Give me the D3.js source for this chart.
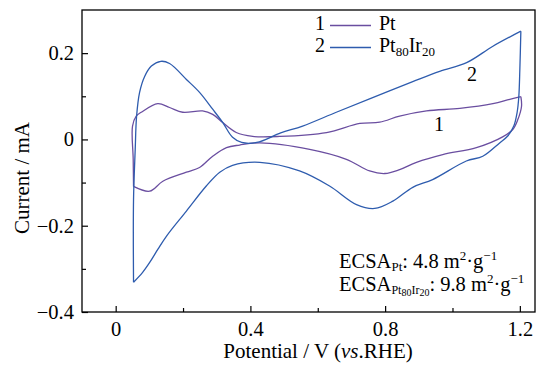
<!DOCTYPE html>
<html>
<head>
<meta charset="utf-8">
<script src="https://cdn.jsdelivr.net/npm/d3@7"></script>
</head>
<body style="margin: 0; background: #fff;">
<svg id="cv_chart" width="541" height="365"></svg>
<script>
// potential (V vs. RHE) and current (mA)
// forward (anodic) and reverse (cathodic) scans for each sample
const pt_fwd_potential = [0.053, 0.052, 0.050, 0.061, 0.076, 0.125, 0.160, 0.199, 0.258, 0.288, 0.318, 0.358, 0.407, 0.487, 0.626, 0.725, 0.784, 0.843, 0.923, 1.022, 1.120, 1.170, 1.203];
const pt_fwd_current = [-0.109, -0.046, 0.031, 0.054, 0.063, 0.083, 0.074, 0.063, 0.066, 0.058, 0.039, 0.016, 0.007, 0.007, 0.016, 0.037, 0.040, 0.054, 0.066, 0.072, 0.083, 0.093, 0.099];
const pt_rev_potential = [1.203, 1.205, 1.194, 1.179, 1.149, 1.071, 0.971, 0.893, 0.843, 0.799, 0.754, 0.685, 0.576, 0.428, 0.368, 0.329, 0.288, 0.249, 0.210, 0.140, 0.101, 0.053];
const pt_rev_current = [0.099, 0.077, 0.046, 0.023, 0.006, -0.019, -0.035, -0.053, -0.070, -0.079, -0.073, -0.046, -0.023, -0.008, -0.013, -0.019, -0.039, -0.065, -0.076, -0.097, -0.120, -0.109];

const ptir_fwd_potential = [0.053, 0.053, 0.058, 0.062, 0.071, 0.086, 0.106, 0.134, 0.160, 0.210, 0.249, 0.288, 0.318, 0.347, 0.374, 0.419, 0.490, 0.555, 0.655, 0.763, 0.882, 0.962, 1.042, 1.120, 1.203];
const ptir_fwd_current = [-0.331, -0.139, -0.023, 0.053, 0.109, 0.146, 0.170, 0.181, 0.176, 0.139, 0.109, 0.070, 0.039, 0.005, -0.007, -0.007, 0.015, 0.031, 0.063, 0.097, 0.134, 0.158, 0.178, 0.216, 0.251];
const ptir_rev_potential = [1.203, 1.200, 1.197, 1.192, 1.182, 1.164, 1.140, 1.090, 1.041, 0.941, 0.882, 0.823, 0.769, 0.715, 0.635, 0.546, 0.428, 0.347, 0.309, 0.269, 0.210, 0.151, 0.125, 0.101, 0.080, 0.053];
const ptir_rev_current = [0.251, 0.162, 0.100, 0.063, 0.031, 0.008, -0.008, -0.039, -0.050, -0.093, -0.111, -0.143, -0.160, -0.151, -0.108, -0.073, -0.053, -0.060, -0.076, -0.108, -0.166, -0.224, -0.255, -0.285, -0.308, -0.331];

const x_ticks = [0, 0.4, 0.8, 1.2];
const x_minor = [0.2, 0.6, 1.0];
const y_ticks = [-0.4, -0.2, 0, 0.2];
const y_minor = [-0.3, -0.1, 0.1];

const pt_color = '#6a4ea0';
const ptir_color = '#2e5cae';

const svg = d3.select("svg#cv_chart");
const box = { left: 82, right: 535, top: 10, bottom: 312 };
const serif = '"Liberation Serif", "Times New Roman", serif';

const x = d3.scaleLinear([-0.1, 1.245], [box.left, box.right]);
const y = d3.scaleLinear([-0.4, 0.3], [box.bottom, box.top]);

const fmt = d => d === 0 ? "0" : d3.format(".1f")(d);

// axes, ticks pointing inward
svg.append("g").attr("transform", `translate(0, ${box.bottom})`)
  .call(d3.axisBottom(x).tickValues(x_ticks).tickSize(-6).tickPadding(9).tickFormat(fmt));
svg.append("g").attr("transform", `translate(0, ${box.bottom})`)
  .call(d3.axisBottom(x).tickValues(x_minor).tickSize(-4).tickFormat(""));
svg.append("g").attr("transform", `translate(${box.left}, 0)`)
  .call(d3.axisLeft(y).tickValues(y_ticks).tickSize(-6).tickPadding(8).tickFormat(fmt));
svg.append("g").attr("transform", `translate(${box.left}, 0)`)
  .call(d3.axisLeft(y).tickValues(y_minor).tickSize(-4).tickFormat(""));

svg.selectAll(".domain").remove();
svg.selectAll(".tick line").attr("stroke", "#000").attr("stroke-width", 1.2);
svg.selectAll(".tick text").attr("font-size", 20.5).attr("fill", "#000");

svg.append("rect")
  .attr("x", box.left).attr("y", box.top)
  .attr("width", box.right - box.left).attr("height", box.bottom - box.top)
  .attr("fill", "none").attr("stroke", "#000").attr("stroke-width", 1.3);

// curves, one path per scan direction so the switching corners stay sharp
const line = d3.line()
  .x(d => x(d[0]))
  .y(d => y(d[1]))
  .curve(d3.curveCatmullRom.alpha(0.5));

const scans = [
  { pts: d3.zip(pt_fwd_potential, pt_fwd_current), color: pt_color },
  { pts: d3.zip(pt_rev_potential, pt_rev_current), color: pt_color },
  { pts: d3.zip(ptir_fwd_potential, ptir_fwd_current), color: ptir_color },
  { pts: d3.zip(ptir_rev_potential, ptir_rev_current), color: ptir_color }
];

svg.selectAll("path.cv")
  .data(scans)
  .join("path")
  .attr("class", "cv")
  .attr("d", d => line(d.pts))
  .attr("fill", "none")
  .attr("stroke", d => d.color)
  .attr("stroke-width", 1.3)
  .attr("stroke-linejoin", "round");

// curve labels
svg.append("text").attr("x", 472).attr("y", 81).attr("text-anchor", "middle").text("2");
svg.append("text").attr("x", 439).attr("y", 131).attr("text-anchor", "middle").text("1");

// legend
const legend = svg.append("g");
[[30, "1", pt_color], [52, "2", ptir_color]].forEach(([ly, num, col]) => {
  legend.append("text").attr("x", 325).attr("y", ly).attr("text-anchor", "end").text(num);
  legend.append("line").attr("x1", 330).attr("x2", 371).attr("y1", ly - 4.5).attr("y2", ly - 4.5)
    .attr("stroke", col).attr("stroke-width", 1.3);
});
legend.append("text").attr("x", 379).attr("y", 30).text("Pt");
const l2 = legend.append("text").attr("x", 379).attr("y", 52);
l2.append("tspan").text("Pt");
l2.append("tspan").attr("dy", 4).attr("font-size", 13).text("80");
l2.append("tspan").attr("dy", -4).text("Ir");
l2.append("tspan").attr("dy", 4).attr("font-size", 13).text("20");

// ECSA annotation
function ecsa(ty, subs, value) {
  const t = svg.append("text").attr("x", 339).attr("y", ty).attr("font-size", 20.5);
  t.append("tspan").text("ECSA");
  let shift = 0;
  subs.forEach(([s, dy, size]) => {
    t.append("tspan").attr("dy", dy - shift).attr("font-size", size).text(s);
    shift = dy;
  });
  t.append("tspan").attr("dy", -shift).text(`: ${value} m`);
  t.append("tspan").attr("dy", -8).attr("font-size", 13).text("2");
  t.append("tspan").attr("dy", 8).text("·g");
  t.append("tspan").attr("dy", -8).attr("font-size", 13).text("−1");
}
ecsa(268, [["Pt", 3, 13]], "4.8");
ecsa(291, [["Pt", 3, 12], ["80", 5, 10], ["Ir", 3, 12], ["20", 5, 10]], "9.8");

// axis titles
svg.append("text").attr("x", 318).attr("y", 358).attr("text-anchor", "middle").attr("font-size", 21)
  .call(t => {
    t.append("tspan").text("Potential / V (");
    t.append("tspan").attr("font-style", "italic").text("vs");
    t.append("tspan").text(".RHE)");
  });
svg.append("text")
  .attr("transform", "translate(29, 178) rotate(-90)")
  .attr("text-anchor", "middle")
  .attr("font-size", 21)
  .text("Current / mA");

// one serif face for every text
svg.selectAll("g").attr("font-family", serif);
svg.selectAll("text")
  .attr("font-family", serif)
  .attr("fill", "#000")
  .each(function () { if (!this.hasAttribute("font-size")) d3.select(this).attr("font-size", 20); });
</script>
</body>
</html>
